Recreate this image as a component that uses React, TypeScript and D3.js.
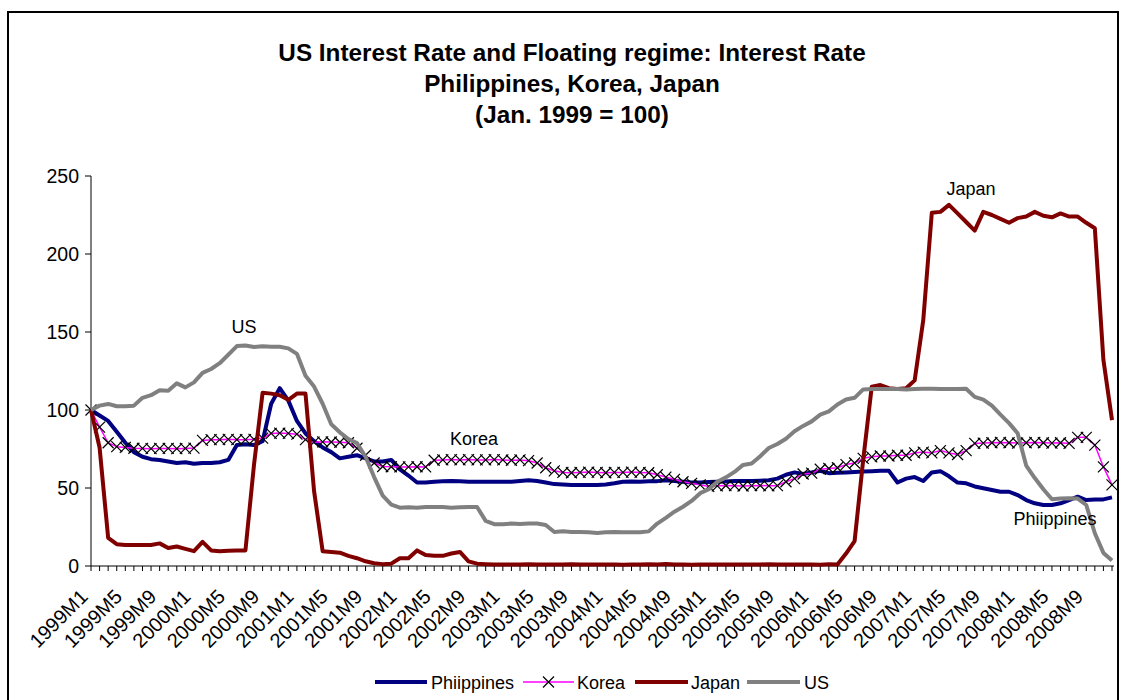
import React from 'react';
import * as d3 from 'd3';

const years = [1999, 2000, 2001, 2002, 2003, 2004, 2005, 2006, 2007, 2008];
const months = [1, 2, 3, 4, 5, 6, 7, 8, 9, 10, 11, 12];
const categories: string[] = years.flatMap((yr) => months.map((m) => `${yr}M${m}`));

const xTickLabels = [
  '1999M1', '1999M5', '1999M9', '2000M1', '2000M5', '2000M9', '2001M1', '2001M5', '2001M9',
  '2002M1', '2002M5', '2002M9', '2003M1', '2003M5', '2003M9', '2004M1', '2004M5', '2004M9',
  '2005M1', '2005M5', '2005M9', '2006M1', '2006M5', '2006M9', '2007M1', '2007M5', '2007M9',
  '2008M1', '2008M5', '2008M9',
];
const yTicks = [0, 50, 100, 150, 200, 250];

const philippines = [
  100, 96.5, 93, 86, 79, 73, 70, 68.5, 68, 67, 66, 66.5,
  65.5, 66, 66, 66.5, 68, 77.5, 78, 77.5, 80, 104, 114, 106,
  93, 85, 80, 76, 73, 69, 70, 71, 69, 67, 67, 68,
  62, 58, 53.5, 53.5, 54, 54.3, 54.5, 54.3, 54, 54, 54, 54,
  54, 54, 54.5, 55, 54.5, 53.5, 52.5, 52.3, 52, 52, 52, 52,
  52.3, 53, 54, 54.2, 54, 54.3, 54.4, 55, 54.5, 54, 53.5, 53.5,
  53.8, 54, 54.2, 54.5, 54.5, 54.5, 54.7, 55, 56, 58.5, 60, 59,
  60, 61, 59.5, 59.8, 60, 60.3, 60.5, 60.8, 61, 61, 53.5, 56,
  57, 54.5, 60, 60.8, 57.5, 53.5, 53, 51, 49.8, 48.7, 47.6, 47.6,
  45.5, 42.3, 40.2, 39.1, 39.1, 40.2, 42.3, 44.4, 42.3, 42.7, 42.7, 44,
];

const korea = [
  100, 89, 79, 76.5, 76, 75.5, 75.4, 75.2, 75.4, 75.4, 75.2, 75.4,
  75.6, 80.5, 81, 81, 81.2, 81, 81, 81.2, 82, 85, 85.2, 85,
  84.5, 81, 79.4, 79.6, 79.5, 79.3, 79, 75.5, 71, 66, 63.8, 63.6,
  63.5, 63.5, 63.6, 63.5, 67.8, 68, 68.2, 68, 68.2, 68, 68, 68.2,
  68, 67.8, 68, 67.5, 66, 63, 61, 60, 59.8, 60, 60.2, 60,
  59.8, 60, 60, 60.2, 60, 59.8, 58.5, 57, 55.5, 54, 53, 52,
  51, 51.4, 51.6, 51.5, 51.3, 51.5, 51.6, 51.4, 51.5, 54, 56, 59,
  59.5, 62, 62.5, 63, 65, 66, 69, 70, 70.5, 70.5, 71, 71,
  72.5, 73, 72.5, 74, 72.5, 71.5, 74, 78.6, 78.8, 79, 79.2, 79,
  78.8, 79, 79.2, 79, 78.8, 79, 78.6, 82.5, 82.5, 77.5, 63.5, 52,
];

const japan = [
  100, 76, 18, 14, 13.5, 13.5, 13.5, 13.5, 14.5, 11.5, 12.5, 11,
  9.5, 15.5, 10, 9.5, 9.8, 10, 10, 65, 111, 110.5, 109.5, 106.5,
  110.5, 110.5, 48, 9.5, 9, 8.5, 6.5, 5, 3, 1.8, 1.2, 1.5,
  5, 5, 10, 7, 6.5, 6.5, 8, 9, 3, 1.5, 1.2, 1,
  1, 0.9, 1, 1.1, 1, 0.9, 1, 1, 1.2, 1, 0.9, 0.9,
  1, 1, 0.8, 0.9, 1, 1.1, 1, 1.3, 1, 0.9, 0.8, 0.9,
  1, 1, 0.9, 1, 1, 0.9, 1, 1.1, 1, 1, 0.9, 1,
  1, 0.8, 1.2, 1, 8, 16, 68, 115, 116, 114, 113.5, 114,
  119, 157.5, 226.5, 227, 231.5, 226, 220.5, 215, 227, 225, 222.5, 220,
  223, 224, 227, 224.5, 223.5, 226, 224, 224, 220, 216.5, 132, 93.5,
];

const us = [
  100, 102.8, 103.9, 102.4, 102.4, 102.8, 107.8, 109.5, 112.7, 112.3, 117.1, 114.5,
  117.7, 123.8, 126.3, 130.0, 135.4, 141.0, 141.3, 140.4, 140.8, 140.6, 140.6, 139.5,
  136, 122, 115, 104, 90.9, 85.7, 81.4, 78.8, 70, 57, 45.1, 39.3,
  37.4, 37.6, 37.4, 37.8, 37.8, 37.8, 37.4, 37.6, 37.8, 37.8, 28.9, 26.8,
  26.8, 27.2, 27.0, 27.2, 27.2, 26.3, 21.8, 22.2, 21.8, 21.8, 21.6, 21.2,
  21.6, 21.8, 21.6, 21.6, 21.6, 22.2, 27.2, 30.9, 34.8, 38.0, 41.7, 46.7,
  49.2, 54.0, 56.8, 60.3, 64.8, 65.7, 70.4, 75.6, 78.2, 81.6, 86.4, 89.8,
  92.7, 97.0, 99.1, 103.5, 106.7, 107.8, 113.2, 113.4, 113.4, 113.4, 113.4, 113.2,
  113.4, 113.6, 113.6, 113.4, 113.4, 113.4, 113.6, 108.4, 106.7, 102.8, 97.0, 91.6,
  85.1, 64.4, 56.4, 49.2, 42.8, 43.2, 43.4, 43.2, 39.1, 21.0, 8.4, 3.5,
];

const titleLines = [
  'US Interest Rate and Floating regime: Interest Rate',
  'Philippines, Korea, Japan',
  '(Jan. 1999 = 100)',
];

const FONT = '"Liberation Sans", Arial, Helvetica, sans-serif';

export default function App() {
  const x = d3.scalePoint<string>().domain(categories).range([91, 1112]);
  const y = d3.scaleLinear().domain([0, 250]).range([566, 176]);
  const mk = (vals: number[]) =>
    d3
      .line<number>()
      .x((_, i) => x(categories[i]) as number)
      .y((d) => y(d))(vals) as string;

  const xMark = 'M-5.5,-5.5L5.5,5.5M-5.5,5.5L5.5,-5.5';

  const legend = [
    { name: 'Phiippines', color: '#000080', w: 4, x0: 375, x1: 427, tx: 431, marker: false },
    { name: 'Korea', color: '#FF00FF', w: 1.5, x0: 523, x1: 574, tx: 577, marker: true },
    { name: 'Japan', color: '#800000', w: 4, x0: 635, x1: 688, tx: 691, marker: false },
    { name: 'US', color: '#808080', w: 4, x0: 747, x1: 800, tx: 804, marker: false },
  ];

  return (
    <svg
      width={1126}
      height={700}
      style={{ position: 'absolute', left: 0, top: 0, background: '#fff' }}
      fontFamily={FONT}
    >
      <rect x={0} y={0} width={1126} height={700} fill="#fff" />
      <rect x={8} y={12} width={1110} height={720} fill="none" stroke="#000" strokeWidth={2} />

      {titleLines.map((t, i) => (
        <text key={t} x={572} y={61 + i * 31} textAnchor="middle" fontWeight="bold" fontSize={24.3}>
          {t}
        </text>
      ))}

      {/* y axis */}
      <line x1={91} x2={91} y1={176} y2={566} stroke="#000" strokeWidth={1} />
      {yTicks.map((t) => (
        <g key={t}>
          <line x1={85} x2={91} y1={y(t)} y2={y(t)} stroke="#000" />
          <text x={79} y={y(t) + 6.5} textAnchor="end" fontSize={19.5}>
            {t}
          </text>
        </g>
      ))}

      {/* x axis */}
      <line x1={91} x2={1114} y1={566} y2={566} stroke="#000" strokeWidth={1} />
      {categories.map((c) => (
        <line key={c} x1={x(c)} x2={x(c)} y1={566} y2={571} stroke="#000" />
      ))}
      {xTickLabels.map((c) => (
        <text
          key={c}
          transform={`translate(${(x(c) as number) - 2},598) rotate(-45)`}
          textAnchor="end"
          fontSize={20}
        >
          {c}
        </text>
      ))}

      {/* series */}
      <path d={mk(philippines)} fill="none" stroke="#000080" strokeWidth={4} strokeLinejoin="round" />
      <path d={mk(korea)} fill="none" stroke="#FF00FF" strokeWidth={1.5} strokeLinejoin="round" />
      {korea.map((v, i) => (
        <path
          key={i}
          d={xMark}
          transform={`translate(${x(categories[i])},${y(v)})`}
          stroke="#000"
          strokeWidth={1.2}
          fill="none"
        />
      ))}
      <path d={mk(japan)} fill="none" stroke="#800000" strokeWidth={4} strokeLinejoin="round" />
      <path d={mk(us)} fill="none" stroke="#808080" strokeWidth={4} strokeLinejoin="round" />

      {/* annotations */}
      <text x={244} y={333} textAnchor="middle" fontSize={18}>US</text>
      <text x={474} y={445} textAnchor="middle" fontSize={18}>Korea</text>
      <text x={971} y={195} textAnchor="middle" fontSize={18}>Japan</text>
      <text x={1055} y={525} textAnchor="middle" fontSize={18}>Phiippines</text>

      {/* legend */}
      {legend.map((l) => (
        <g key={l.name}>
          <line x1={l.x0} x2={l.x1} y1={682} y2={682} stroke={l.color} strokeWidth={l.w} />
          {l.marker && (
            <path d={xMark} transform={`translate(${(l.x0 + l.x1) / 2},682)`} stroke="#000" strokeWidth={1.2} fill="none" />
          )}
          <text x={l.tx} y={688.5} fontSize={18}>
            {l.name}
          </text>
        </g>
      ))}
    </svg>
  );
}
